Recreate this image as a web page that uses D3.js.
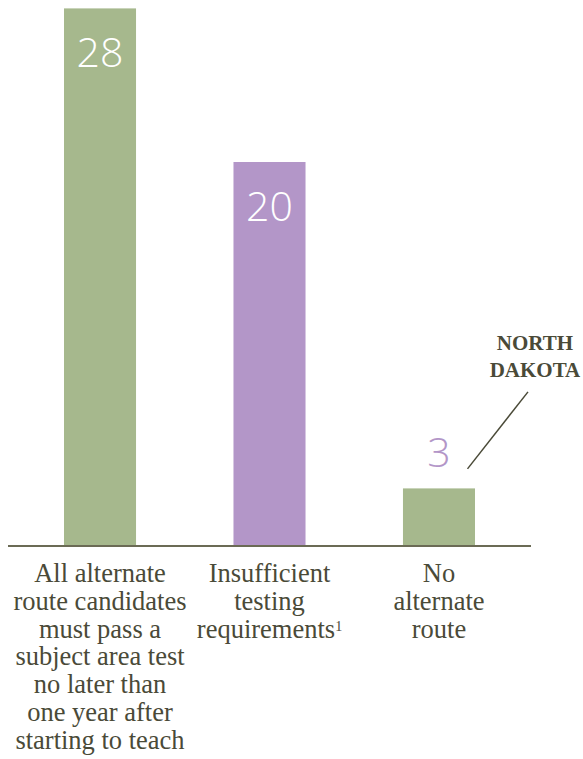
<!DOCTYPE html>
<html>
<head>
<meta charset="utf-8">
<script src="https://cdn.jsdelivr.net/npm/d3@7"></script>
<style>
  html, body { margin: 0; padding: 0; background: #fff; }
  svg { display: block; }
</style>
</head>
<body>
<svg id="chart" width="583" height="759"></svg>
<script>
// ---- data ----
const categories = ["all", "insufficient", "none"];
const values = [28, 20, 3];
const labelLines = [
  ["All alternate", "route candidates", "must pass a", "subject area test", "no later than", "one year after", "starting to teach"],
  ["Insufficient", "testing", "requirements"],
  ["No", "alternate", "route"]
];
const labelSuperscripts = ["", "1", ""];
const barColors = ["#a6b88d", "#b396c8", "#a6b88d"];
const valueInside = [true, true, false];
const annotationLines = ["NORTH", "DAKOTA"];

// ---- layout ----
const W = 583, H = 759;
const baseY = 546;
const topY = 8.4;
const svg = d3.select("#chart");

const x = d3.scaleBand()
  .domain(categories)
  .range([64, 475])
  .paddingInner(0.575)
  .paddingOuter(0);

const y = d3.scaleLinear()
  .domain([0, 28])
  .range([baseY, topY]);

const textColor = "#4a4a38";
const serif = "'Liberation Serif', 'DejaVu Serif', serif";
const sans = "'Open Sans', Lato, 'Noto Sans', sans-serif";

// bars
svg.selectAll("rect.bar")
  .data(categories)
  .join("rect")
  .attr("class", "bar")
  .attr("x", d => x(d))
  .attr("width", x.bandwidth())
  .attr("y", (d, i) => y(values[i]))
  .attr("height", (d, i) => y(0) - y(values[i]))
  .attr("fill", (d, i) => barColors[i]);

// baseline
svg.append("line")
  .attr("x1", 8).attr("x2", 531)
  .attr("y1", y(0)).attr("y2", y(0))
  .attr("stroke", "#6b6b55")
  .attr("stroke-width", 2);

// value labels
svg.selectAll("text.val")
  .data(categories)
  .join("text")
  .attr("class", "val")
  .attr("x", d => x(d) + x.bandwidth() / 2)
  .attr("y", (d, i) => valueInside[i] ? y(values[i]) + 59 : y(values[i]) - 21)
  .attr("text-anchor", "middle")
  .attr("font-family", sans)
  .attr("font-weight", 300)
  .attr("font-size", 41)
  .attr("fill", (d, i) => valueInside[i] ? "#ffffff" : "#b396c8")
  .text((d, i) => values[i]);

// category labels
const lineH = 27.8;
const firstBase = 582;
categories.forEach((c, i) => {
  const t = svg.append("text")
    .attr("text-anchor", "middle")
    .attr("font-family", serif)
    .attr("font-size", 26.5)
    .attr("fill", textColor);
  const cx = x(c) + x.bandwidth() / 2;
  labelLines[i].forEach((ln, j) => {
    const ts = t.append("tspan")
      .attr("x", cx)
      .attr("y", firstBase + j * lineH)
      .text(ln);
    if (j === labelLines[i].length - 1 && labelSuperscripts[i]) {
      ts.append("tspan")
        .attr("font-size", 14)
        .attr("dy", -7)
        .text(labelSuperscripts[i]);
    }
  });
});

// annotation: North Dakota
const annX = x("none") + x.bandwidth() / 2;
svg.append("line")
  .attr("x1", annX + 28.5).attr("y1", y(values[2]) - 19.5)
  .attr("x2", annX + 89).attr("y2", y(values[2]) - 96.5)
  .attr("stroke", "#4a4a38")
  .attr("stroke-width", 1.5);

const ann = svg.append("text")
  .attr("text-anchor", "middle")
  .attr("font-family", serif)
  .attr("font-weight", "bold")
  .attr("font-size", 21)
  .attr("fill", textColor);
annotationLines.forEach((ln, j) => {
  ann.append("tspan")
    .attr("x", annX + 96)
    .attr("y", y(values[2]) - 138 + j * 27)
    .text(ln);
});
</script>
</body>
</html>
